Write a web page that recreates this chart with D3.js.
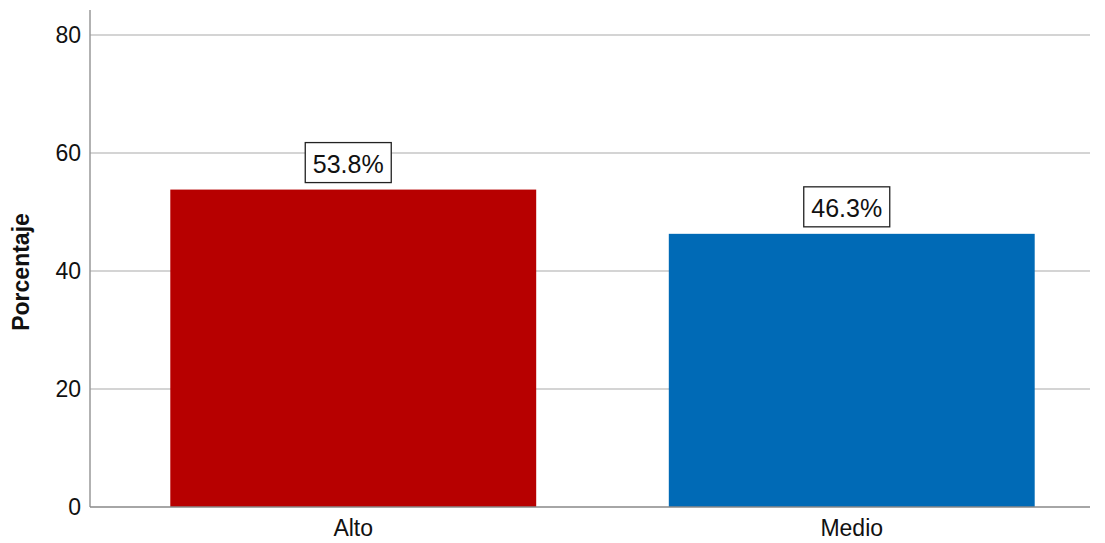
<!DOCTYPE html>
<html><head><meta charset="utf-8">
<script src="https://cdn.jsdelivr.net/npm/d3@7"></script>
<style>body{margin:0;background:#fff;font-family:"Liberation Sans",Arial,sans-serif;}</style>
</head><body><svg id="c" width="1105" height="543"></svg>
<script>
const categories = ["Alto", "Medio"];
const values = [53.8, 46.3];
const labels = ["53.8%", "46.3%"];
const colors = ["#b70000", "#006ab6"];
const yTicks = [0, 20, 40, 60, 80];

const svg = d3.select("#c");
const y = d3.scaleLinear().domain([0, 80]).range([507, 35]);
const x = d3.scaleBand().domain(categories).range([104, 1101]).paddingInner(0.266).paddingOuter(0.133);

// gridlines
svg.selectAll(".g").data(yTicks.filter(d=>d>0)).enter().append("line")
  .attr("x1", 90).attr("x2", 1090).attr("y1", d=>y(d)).attr("y2", d=>y(d))
  .attr("stroke", "#c6c6c6").attr("stroke-width", 1.5);

// bars
svg.selectAll(".b").data(values).enter().append("rect")
  .attr("x", (d,i)=>x(categories[i])).attr("width", x.bandwidth())
  .attr("y", d=>y(d)).attr("height", d=>y(0)-y(d))
  .attr("fill", (d,i)=>colors[i]);

// axes lines
svg.append("line").attr("x1",90).attr("x2",90).attr("y1",10).attr("y2",507).attr("stroke","#999").attr("stroke-width",1.5);
svg.append("line").attr("x1",90).attr("x2",1090).attr("y1",507).attr("y2",507).attr("stroke","#888").attr("stroke-width",1.5);

// y tick labels
svg.selectAll(".yt").data(yTicks).enter().append("text")
  .attr("x", 81).attr("y", d=>y(d)).attr("dy", "0.36em").attr("text-anchor","end")
  .attr("font-size", 23).attr("fill","#111").text(d=>d);

// x labels
svg.selectAll(".xl").data(categories).enter().append("text")
  .attr("x", d=>x(d)+x.bandwidth()/2).attr("y", 536).attr("text-anchor","middle")
  .attr("font-size", 23).attr("fill","#111").text(d=>d);

// y title
svg.append("text").attr("transform","translate(29,272) rotate(-90)").attr("text-anchor","middle")
  .attr("font-size", 23).attr("font-weight","bold").attr("fill","#111").text("Porcentaje");

// value labels
values.forEach((v,i)=>{
  const cx = x(categories[i]) + x.bandwidth()/2 - 5;
  const by = y(v) - 7;
  svg.append("rect").attr("x", cx-43).attr("y", by-40).attr("width", 86).attr("height", 40)
    .attr("fill","#fff").attr("stroke","#222").attr("stroke-width",1.3);
  svg.append("text").attr("x", cx).attr("y", by-10).attr("text-anchor","middle")
    .attr("font-size", 25).attr("fill","#111").text(labels[i]);
});
</script></body></html>
